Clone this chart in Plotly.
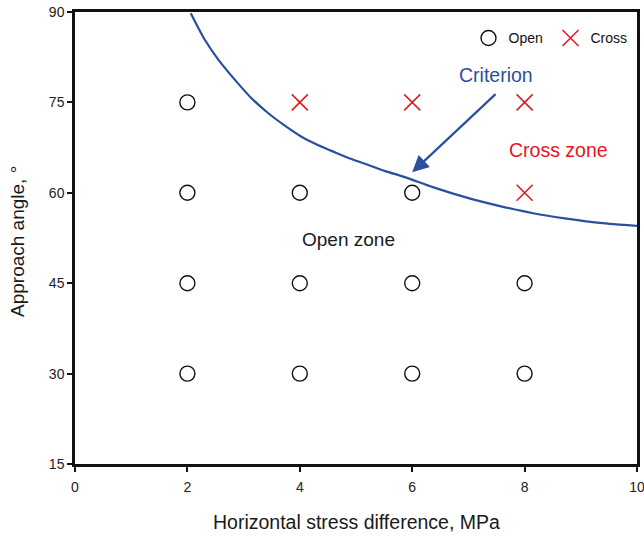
import plotly.graph_objects as go

open_x = [2, 2, 4, 6, 2, 4, 6, 8, 2, 4, 6, 8]
open_y = [75, 60, 60, 60, 45, 45, 45, 45, 30, 30, 30, 30]
cross_x = [4, 6, 8, 8]
cross_y = [75, 75, 75, 60]
crit_x = [2.06, 2.31, 2.55, 2.85, 3.14, 3.44, 3.74, 4.03, 4.33, 4.63, 4.92, 5.22, 5.52, 5.87,
          6.38, 6.97, 7.56, 8.15, 8.75, 9.34, 10]
crit_y = [89.8, 85.4, 82.1, 78.7, 75.7, 73.2, 71.1, 69.3, 67.9, 66.7, 65.6, 64.6, 63.6, 62.6,
          60.9, 59.2, 57.8, 56.6, 55.7, 55.0, 54.5]
x_ticks = [0, 2, 4, 6, 8, 10]
y_ticks = [15, 30, 45, 60, 75, 90]

FONT = "Liberation Sans, Arial, sans-serif"
BLUE = "#2b4fa0"
RED = "#e8141c"
TXT = "#1a1a1a"

fig = go.Figure()
fig.add_trace(go.Scatter(x=crit_x, y=crit_y, mode="lines",
                         line=dict(color=BLUE, width=2.2, shape="spline", smoothing=0.8),
                         showlegend=False, hoverinfo="skip"))
fig.add_trace(go.Scatter(x=open_x, y=open_y, mode="markers", name="Open",
                         marker=dict(symbol="circle-open", size=15, color="#111111", line=dict(width=1.4))))
fig.add_trace(go.Scatter(x=cross_x, y=cross_y, mode="markers", name="Cross",
                         marker=dict(symbol="x-thin-open", size=16, color=RED, line=dict(width=1.5, color=RED))))

fig.add_annotation(x=6.0, y=63.4, ax=7.51, ay=76.6, xref="x", yref="y", axref="x", ayref="y",
                   showarrow=True, arrowhead=2, arrowsize=1.5, arrowwidth=2.2, arrowcolor=BLUE, text="")
fig.add_annotation(x=7.49, y=79.5, text="Criterion", showarrow=False,
                   font=dict(size=19.5, color=BLUE, family=FONT))
fig.add_annotation(x=8.61, y=67.1, text="Cross zone", showarrow=False,
                   font=dict(size=19.5, color=RED, family=FONT))
fig.add_annotation(x=4.86, y=52.2, text="Open zone", showarrow=False,
                   font=dict(size=19, color=TXT, family=FONT))

# axis titles
fig.add_annotation(x=(356 - 75) / 562, y=-(522 - 464) / 452, xref="paper", yref="paper",
                   text="Horizontal stress difference, MPa", showarrow=False,
                   xanchor="center", yanchor="middle", font=dict(size=19.5, color=TXT, family=FONT))
fig.add_annotation(x=-(75 - 18) / 562, y=(464 - 241) / 452, xref="paper", yref="paper",
                   text="Approach angle, °", textangle=-90, showarrow=False,
                   xanchor="center", yanchor="middle", font=dict(size=19, color=TXT, family=FONT))

axis_common = dict(showline=True, linecolor="#111111", linewidth=2.5, mirror=True, ticks="outside",
                   ticklen=5, tickwidth=2, tickcolor="#111111", showgrid=False, zeroline=False,
                   automargin=False, ticklabeloverflow="allow",
                   tickfont=dict(size=14, color="#222222", family=FONT))
fig.update_xaxes(range=[0, 10], tickvals=x_ticks, ticklabelstandoff=3, **axis_common)
fig.update_yaxes(range=[15, 90], tickvals=y_ticks, **axis_common)

fig.update_layout(width=644, height=536, margin=dict(l=75, r=7, t=12, b=72),
                  plot_bgcolor="white", paper_bgcolor="white",
                  font=dict(family=FONT),
                  legend=dict(orientation="h", x=0.992, xanchor="right", y=0.977, yanchor="top",
                              bgcolor="rgba(0,0,0,0)", font=dict(size=14, color="#111111", family=FONT),
                              itemwidth=30, entrywidth=37, tracegroupgap=0))
fig.write_html("out.html")
